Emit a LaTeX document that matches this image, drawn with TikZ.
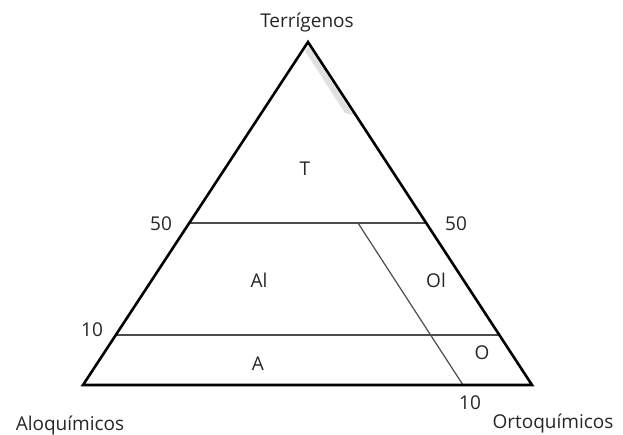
\documentclass[tikz,border=0pt]{standalone}
\usepackage{fontspec}
\setmainfont{Open Sans}
\begin{document}
\begin{tikzpicture}[x=1pt,y=-1pt,
  outline/.style={draw=black,line width=2.6pt,line join=miter},
  divider/.style={draw=black!70,line width=1.2pt},
  lbl/.style={font=\fontsize{19}{22}\selectfont,text=black!85,inner sep=0pt}]
\useasboundingbox (0,0) rectangle (623,434);
\coordinate (top) at (308,42);
\coordinate (bl) at (83,385);
\coordinate (br) at (532,385);
\coordinate (l50) at (190,223);
\coordinate (r50) at (426,223);
\coordinate (l10) at (116,335);
\coordinate (r10) at (500,335);
\coordinate (s50) at (358,223);
\coordinate (s0) at (463,385);
% gray sliver near apex
\fill[black!12] (309,46) -- (353,115) -- (345,113) -- (305,51) -- cycle;
\draw[divider] (l50) -- (r50);
\draw[divider] (l10) -- (r10);
\draw[divider] (s50) -- (s0);
\draw[outline] (top) -- (bl) -- (br) -- cycle;
\node[lbl] (tt) at (307,23) {Terrígenos};
\node[lbl] (ta) at (70,425) {Aloquímicos};
\node[lbl] (to) at (553,423) {Ortoquímicos};
\node[lbl] (T) at (305,169) {T};
\node[lbl] (Al) at (259,280) {Al};
\node[lbl] (Ol) at (436,280) {Ol};
\node[lbl] (A) at (258,364) {A};
\node[lbl] (O) at (482,353) {O};
\node[lbl] (n50l) at (161,224) {50};
\node[lbl] (n50r) at (456,224) {50};
\node[lbl] (n10l) at (92,330) {10};
\node[lbl] (n10b) at (470,403) {10};
\end{tikzpicture}
\end{document}
